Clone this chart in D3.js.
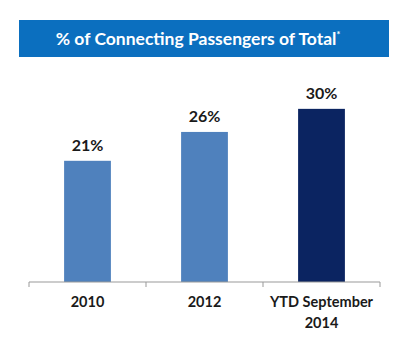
<!DOCTYPE html>
<html><head><meta charset="utf-8">
<script src="https://cdn.jsdelivr.net/npm/d3@7"></script>
<style>body{margin:0;background:#fff;}svg{display:block;font-family:Lato,"Open Sans",sans-serif;}</style>
</head><body>
<svg id="c" width="402" height="339"></svg>
<script>
const categories = ["2010", "2012", "YTD September\n2014"];
const values = [21, 26, 30];
const barColors = ["#4F81BD", "#4F81BD", "#0B2461"];
const title = "% of Connecting Passengers of Total";

const svg = d3.select("#c");
// title box
svg.append("rect").attr("x",19).attr("y",20).attr("width",370).attr("height",37).attr("fill","#0B6FBF");
const t = svg.append("text").attr("x",198).attr("y",45).attr("text-anchor","middle")
  .attr("fill","#fff").attr("font-weight","bold").attr("font-size",17.5);
t.append("tspan").text(title);
t.append("tspan").attr("dy",-7).attr("font-size",9).text("*");

const x = d3.scaleBand().domain(categories).range([29,380]).paddingInner(0.6).paddingOuter(0.3);
const y = d3.scaleLinear().domain([0,35]).range([282,80]);

svg.selectAll(".bar").data(values).join("rect")
  .attr("x",(d,i)=>x(categories[i])).attr("width",x.bandwidth())
  .attr("y",d=>y(d)).attr("height",d=>y(0)-y(d)).attr("fill",(d,i)=>barColors[i]);

svg.selectAll(".lbl").data(values).join("text")
  .attr("x",(d,i)=>x(categories[i])+x.bandwidth()/2).attr("y",d=>y(d)-10)
  .attr("text-anchor","middle").attr("font-weight","bold").attr("font-size",16).attr("fill","#1a1a1a")
  .text(d=>d+"%");

// axis
const bx = d3.scaleBand().domain(categories).range([29,380]);
const ax = svg.append("g").attr("transform","translate(0,282)");
ax.append("line").attr("x1",29).attr("x2",380).attr("stroke","#999").attr("stroke-width",1);
const edges = categories.map(c=>bx(c)).concat([380]);
ax.selectAll(".tk").data(edges).join("line").attr("x1",d=>d).attr("x2",d=>d).attr("y1",0).attr("y2",5)
  .attr("stroke","#999");
categories.forEach(c=>{
  const lines = c.split("\n");
  const tx = ax.append("text").attr("x",bx(c)+bx.bandwidth()/2).attr("y",25)
    .attr("text-anchor","middle").attr("font-weight","bold").attr("font-size",14.5).attr("fill","#1a1a1a");
  lines.forEach((l,i)=>tx.append("tspan").attr("x",bx(c)+bx.bandwidth()/2).attr("dy",i?21:0).text(l));
});
</script>
</body></html>
